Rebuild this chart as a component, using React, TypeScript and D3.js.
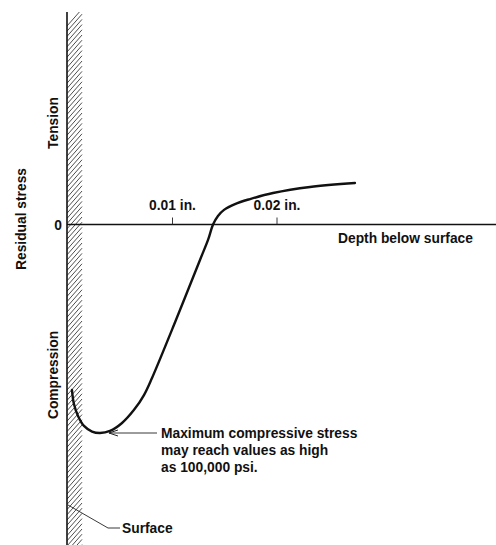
import React from "react";
import * as d3 from "d3";

// depth below surface (inches)
const depthIn = [0.00038, 0.00057, 0.00096, 0.00153, 0.0023, 0.00306, 0.00402, 0.00517, 0.00632, 0.00727, 0.00804, 0.01033, 0.01263, 0.0134, 0.01388, 0.01435, 0.01493, 0.01598, 0.01742, 0.01962, 0.02316, 0.02746];
// residual stress (ksi, negative = compression)
const stressKsi = [-79.4, -86.1, -91.8, -96.6, -99.3, -100, -99.0, -95.2, -88.9, -81.8, -73.6, -45.8, -17.0, -7.4, 0, 4.1, 7.0, 9.8, 12.2, 15.1, 18.0, 19.9];
const tickValues = [0.01, 0.02];
const tickLabels = ["0.01 in.", "0.02 in."];
const annotationLines = ["Maximum compressive stress", "may reach values as high", "as 100,000 psi."];

const W = 496;
const H = 545;
const FONT = "'Liberation Sans', Arial, sans-serif";

export default function App() {
  const x = d3.scaleLinear().domain([0, 0.02]).range([68, 277]);
  const y = d3.scaleLinear().domain([-100, 0]).range([433, 224.5]);

  const pts: [number, number][] = depthIn.map((d, i) => [x(d), y(stressKsi[i])]);
  const line = d3.line<[number, number]>().x((p) => p[0]).y((p) => p[1]).curve(d3.curveCatmullRom.alpha(0.5));

  const wallX = 67;
  const wallTop = 12;
  const hatchW = 15;
  const hatches: number[] = d3.range(wallTop + 14, H + 18, 5.2);

  const y0 = y(0);
  const minIdx = stressKsi.indexOf(d3.min(stressKsi) as number);
  const minPt = pts[minIdx];
  const tipX = minPt[0] + 9;
  const tipY = minPt[1];

  const textStyle = { fontFamily: FONT, fontWeight: 700, fontSize: 13.8, fill: "#111" } as const;

  return (
    <svg width={W} height={H} style={{ position: "absolute", left: 0, top: 0, background: "#fff" }}>
      <defs>
        <clipPath id="wallclip">
          <rect x={wallX} y={wallTop} width={hatchW + 1} height={H - wallTop} />
        </clipPath>
      </defs>
      {/* hatching */}
      <g clipPath="url(#wallclip)" stroke="#222" strokeWidth={0.8}>
        {hatches.map((h, i) => (
          <line key={i} x1={wallX} y1={h} x2={wallX + hatchW} y2={h - 17} />
        ))}
      </g>
      <line x1={wallX} y1={wallTop} x2={wallX} y2={H} stroke="#111" strokeWidth={1.6} />

      {/* depth axis */}
      <line x1={wallX} y1={y0} x2={W} y2={y0} stroke="#111" strokeWidth={1.5} />
      {tickValues.map((t, i) => (
        <g key={i}>
          <line x1={x(t)} y1={y0 - 7} x2={x(t)} y2={y0} stroke="#222" strokeWidth={0.9} />
          <text x={x(t)} y={210} textAnchor="middle" style={textStyle}>
            {tickLabels[i]}
          </text>
        </g>
      ))}
      <text x={338} y={243} style={textStyle}>Depth below surface</text>
      <text x={58} y={y0 + 5} textAnchor="middle" style={textStyle}>0</text>

      {/* vertical labels */}
      <text transform={`translate(58,123) rotate(-90)`} textAnchor="middle" style={textStyle}>Tension</text>
      <text transform={`translate(58,375) rotate(-90)`} textAnchor="middle" style={textStyle}>Compression</text>
      <text transform={`translate(26,219) rotate(-90)`} textAnchor="middle" style={textStyle}>Residual stress</text>

      {/* stress curve */}
      <path d={line(pts) || ""} fill="none" stroke="#111" strokeWidth={2.4} strokeLinecap="round" strokeLinejoin="round" />

      {/* annotation arrow */}
      <line x1={tipX} y1={tipY} x2={157} y2={tipY} stroke="#222" strokeWidth={0.9} />
      <path d={`M${tipX + 9},${tipY - 3} L${tipX},${tipY} L${tipX + 9},${tipY + 3}`} fill="none" stroke="#222" strokeWidth={1} />
      {annotationLines.map((t, i) => (
        <text key={i} x={161} y={438 + i * 17} style={textStyle}>{t}</text>
      ))}

      {/* surface leader */}
      <path d={`M${wallX + 1},505 L108,528 L120,528`} fill="none" stroke="#222" strokeWidth={0.9} />
      <text x={122} y={533} style={textStyle}>Surface</text>
    </svg>
  );
}
